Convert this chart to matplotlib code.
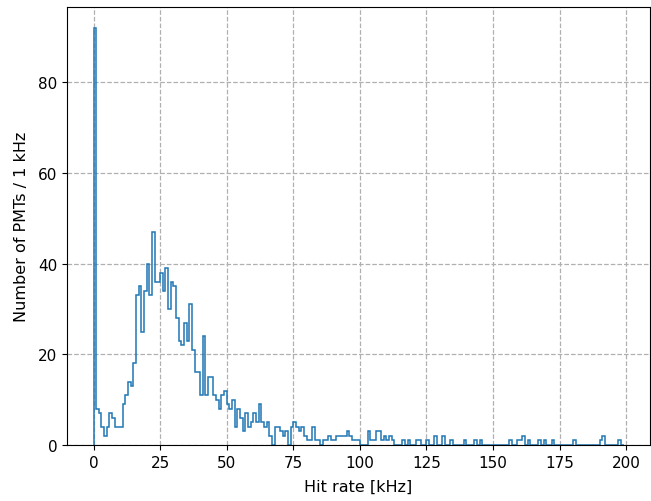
import numpy as np
import matplotlib
matplotlib.use("Agg")
import matplotlib.pyplot as plt

# PMT hit-rate histogram, 1 kHz bins from 0 to 199 kHz
bin_edges = np.arange(0, 200, 1)

counts_0_49 = [92, 8, 7, 4, 2, 4, 7, 6, 4, 4,
               4, 9, 11, 14, 13, 18, 33, 35, 25, 34,
               40, 33, 47, 36, 36, 38, 34, 39, 30, 36,
               35, 28, 23, 22, 27, 23, 31, 21, 16, 16,
               11, 24, 11, 15, 15, 11, 10, 8, 11, 12]
counts_50_99 = [9, 8, 10, 4, 8, 6, 3, 7, 4, 5,
                7, 5, 9, 5, 4, 5, 2, 0, 4, 4,
                3, 2, 3, 0, 4, 5, 4, 3, 4, 2,
                1, 1, 4, 1, 1, 0, 1, 1, 2, 1,
                1, 2, 2, 2, 2, 3, 2, 1, 1, 1]
counts_100_149 = [0, 0, 0, 3, 1, 1, 3, 3, 1, 2,
                  1, 2, 1, 0, 0, 0, 1, 0, 1, 0,
                  0, 1, 1, 0, 0, 1, 0, 0, 2, 0,
                  0, 2, 0, 0, 1, 0, 0, 0, 0, 1,
                  0, 0, 0, 1, 0, 1, 0, 0, 0, 0]
counts_150_198 = [0, 0, 0, 0, 0, 0, 1, 0, 0, 1,
                  1, 2, 0, 1, 0, 0, 0, 1, 0, 1,
                  0, 0, 1, 0, 0, 0, 0, 0, 0, 0,
                  1, 0, 0, 0, 0, 0, 0, 0, 0, 0,
                  1, 2, 0, 0, 0, 0, 0, 1, 0]

counts = np.array(counts_0_49 + counts_50_99 + counts_100_149 + counts_150_198, dtype=float)

fig = plt.figure(figsize=(6.51, 5.02), dpi=100)
ax = fig.add_axes([67 / 651, 1 - 446 / 502, (650 - 67) / 651, (446 - 8) / 502])

ax.hist(bin_edges[:-1], bins=bin_edges, weights=counts, histtype="step",
        color="#1f77b4", linewidth=1.1)

ax.grid(True, linestyle="--", color="#b0b0b0", linewidth=0.9)
ax.set_axisbelow(True)
ax.set_xlabel("Hit rate [kHz]", fontsize=11.5, labelpad=6.5)
ax.set_ylabel("Number of PMTs / 1 kHz", fontsize=11.5, labelpad=6.5)
ax.set_xticks([0, 25, 50, 75, 100, 125, 150, 175, 200])
ax.set_yticks([0, 20, 40, 60, 80])
ax.tick_params(labelsize=11)

fig.savefig("out.png", dpi=100)
